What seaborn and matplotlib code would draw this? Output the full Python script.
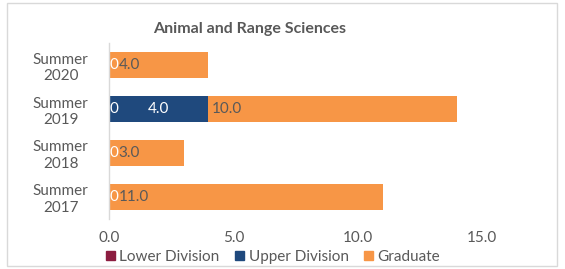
import matplotlib
matplotlib.use("Agg")
import matplotlib.pyplot as plt
import seaborn as sns
import pandas as pd
from matplotlib.patches import Rectangle, Patch

categories = ["Summer\n2020", "Summer\n2019", "Summer\n2018", "Summer\n2017"]
lower_division = [0, 0, 0, 0]
upper_division = [0, 4.0, 0, 0]
graduate = [4.0, 10.0, 3.0, 11.0]
x_ticks = [0, 5, 10, 15]

c_lower = "#8C1D40"
c_upper = "#1F497D"
c_grad = "#F79646"
txt = "#595959"

sns.set_theme(style="white")
plt.rcParams["font.family"] = ["Lato", "DejaVu Sans"]

df = pd.DataFrame({
    "cat": categories,
    "lower": lower_division,
    "upper": upper_division,
    "grad": graduate,
})
df["cum_upper"] = df["lower"] + df["upper"]
df["cum_grad"] = df["cum_upper"] + df["grad"]

fig = plt.figure(figsize=(5.65, 2.69), dpi=100)
ax = fig.add_axes([0.193, 0.186, 0.66, 0.654])

w = 0.57
kw = dict(orient="h", width=w, ax=ax, saturation=1, linewidth=0)
sns.barplot(data=df, x="cum_grad", y="cat", color=c_grad, **kw)
sns.barplot(data=df, x="cum_upper", y="cat", color=c_upper, **kw)
sns.barplot(data=df, x="lower", y="cat", color=c_lower, **kw)

fs = 11
ax.set_xlim(0, 15)
ax.set_xticks(x_ticks)
ax.set_xticklabels([f"{t:.1f}" for t in x_ticks])
ax.set_xlabel("")
ax.set_ylabel("")
ax.tick_params(axis="both", length=0, labelsize=fs, colors=txt)
ax.tick_params(axis="x", pad=9)
ax.tick_params(axis="y", pad=8)
for lbl in ax.get_yticklabels():
    lbl.set_multialignment("center")
    lbl.set_horizontalalignment("center")
    lbl.set_x(-0.10)
for s in ["top", "right", "bottom"]:
    ax.spines[s].set_visible(False)
ax.spines["left"].set_color("#D9D9D9")
ax.spines["left"].set_linewidth(1)

# data labels
for i in range(len(categories)):
    lo, up, gr = lower_division[i], upper_division[i], graduate[i]
    ax.annotate(f"{lo:.0f}", xy=(0, i), xytext=(0.5, 0), textcoords="offset points",
                ha="left", va="center", color="white", fontsize=fs)
    if up > 0:
        ax.text(lo + up / 2, i, f"{up:.1f}", ha="center", va="center", color="white", fontsize=fs)
    start = lo + up
    off = 7 if start == 0 else 2.5
    ax.annotate(f"{gr:.1f}", xy=(start, i), xytext=(off, 0), textcoords="offset points",
                ha="left", va="center", color=txt, fontsize=fs)

fig.text(0.442, 0.893, "Animal and Range Sciences", ha="center", va="center",
         fontsize=11.5, fontweight="bold", color=txt)

handles = [Patch(color=c_lower), Patch(color=c_upper), Patch(color=c_grad)]
fig.legend(handles, ["Lower Division", "Upper Division", "Graduate"], loc="center",
           bbox_to_anchor=(0.483, 0.045), ncol=3, frameon=False, fontsize=fs,
           handlelength=0.6, handleheight=0.6, handletextpad=0.3, columnspacing=1.0,
           labelcolor=txt)

fig.patches.append(Rectangle((0.013, 0.01), 0.972, 0.978, transform=fig.transFigure,
                             fill=False, edgecolor="#D9D9D9", linewidth=1))

fig.savefig("out.png", dpi=100, facecolor="white")
